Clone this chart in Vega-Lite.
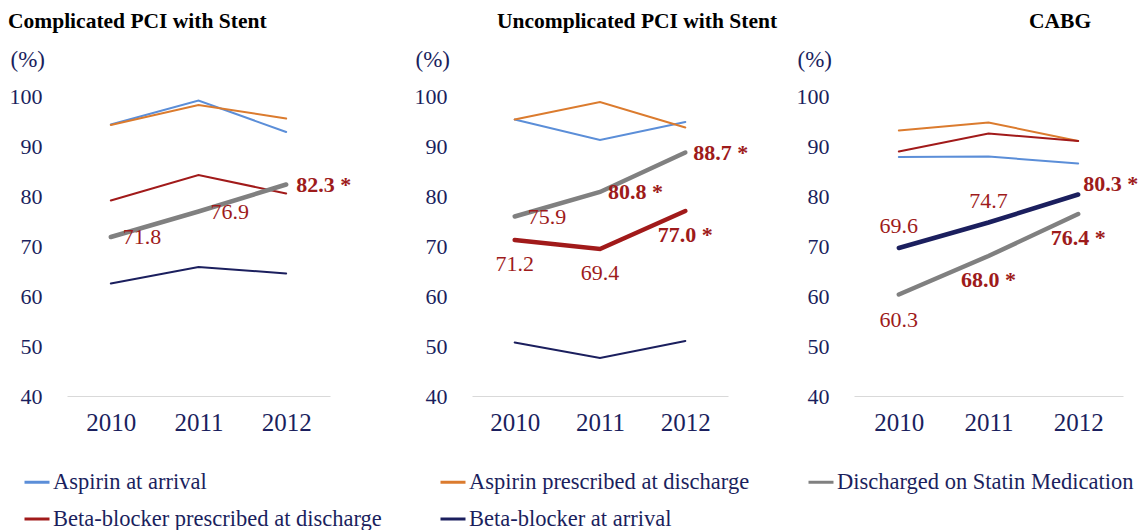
{
  "$schema": "https://vega.github.io/schema/vega-lite/v6.json",
  "padding": {"left": 8, "top": 10, "right": 5, "bottom": 5},
  "background": "white",
  "data": {"values": [
    {"panel": "Complicated PCI with Stent", "measure": "Aspirin at arrival", "year": "2010", "value": 94.3, "label": null},
    {"panel": "Complicated PCI with Stent", "measure": "Aspirin at arrival", "year": "2011", "value": 99.1, "label": null},
    {"panel": "Complicated PCI with Stent", "measure": "Aspirin at arrival", "year": "2012", "value": 92.8, "label": null},
    {"panel": "Complicated PCI with Stent", "measure": "Aspirin prescribed at discharge", "year": "2010", "value": 94.2, "label": null},
    {"panel": "Complicated PCI with Stent", "measure": "Aspirin prescribed at discharge", "year": "2011", "value": 98.2, "label": null},
    {"panel": "Complicated PCI with Stent", "measure": "Aspirin prescribed at discharge", "year": "2012", "value": 95.5, "label": null},
    {"panel": "Complicated PCI with Stent", "measure": "Discharged on Statin Medication", "year": "2010", "value": 71.8, "label": "71.8"},
    {"panel": "Complicated PCI with Stent", "measure": "Discharged on Statin Medication", "year": "2011", "value": 76.9, "label": "76.9"},
    {"panel": "Complicated PCI with Stent", "measure": "Discharged on Statin Medication", "year": "2012", "value": 82.3, "label": "82.3 *"},
    {"panel": "Complicated PCI with Stent", "measure": "Beta-blocker prescribed at discharge", "year": "2010", "value": 79.1, "label": null},
    {"panel": "Complicated PCI with Stent", "measure": "Beta-blocker prescribed at discharge", "year": "2011", "value": 84.2, "label": null},
    {"panel": "Complicated PCI with Stent", "measure": "Beta-blocker prescribed at discharge", "year": "2012", "value": 80.5, "label": null},
    {"panel": "Complicated PCI with Stent", "measure": "Beta-blocker at arrival", "year": "2010", "value": 62.5, "label": null},
    {"panel": "Complicated PCI with Stent", "measure": "Beta-blocker at arrival", "year": "2011", "value": 65.8, "label": null},
    {"panel": "Complicated PCI with Stent", "measure": "Beta-blocker at arrival", "year": "2012", "value": 64.5, "label": null},

    {"panel": "Uncomplicated PCI with Stent", "measure": "Aspirin at arrival", "year": "2010", "value": 95.3, "label": null},
    {"panel": "Uncomplicated PCI with Stent", "measure": "Aspirin at arrival", "year": "2011", "value": 91.2, "label": null},
    {"panel": "Uncomplicated PCI with Stent", "measure": "Aspirin at arrival", "year": "2012", "value": 94.8, "label": null},
    {"panel": "Uncomplicated PCI with Stent", "measure": "Aspirin prescribed at discharge", "year": "2010", "value": 95.3, "label": null},
    {"panel": "Uncomplicated PCI with Stent", "measure": "Aspirin prescribed at discharge", "year": "2011", "value": 98.8, "label": null},
    {"panel": "Uncomplicated PCI with Stent", "measure": "Aspirin prescribed at discharge", "year": "2012", "value": 93.7, "label": null},
    {"panel": "Uncomplicated PCI with Stent", "measure": "Discharged on Statin Medication", "year": "2010", "value": 75.9, "label": "75.9"},
    {"panel": "Uncomplicated PCI with Stent", "measure": "Discharged on Statin Medication", "year": "2011", "value": 80.8, "label": "80.8 *"},
    {"panel": "Uncomplicated PCI with Stent", "measure": "Discharged on Statin Medication", "year": "2012", "value": 88.7, "label": "88.7 *"},
    {"panel": "Uncomplicated PCI with Stent", "measure": "Beta-blocker prescribed at discharge", "year": "2010", "value": 71.2, "label": "71.2"},
    {"panel": "Uncomplicated PCI with Stent", "measure": "Beta-blocker prescribed at discharge", "year": "2011", "value": 69.4, "label": "69.4"},
    {"panel": "Uncomplicated PCI with Stent", "measure": "Beta-blocker prescribed at discharge", "year": "2012", "value": 77.0, "label": "77.0 *"},
    {"panel": "Uncomplicated PCI with Stent", "measure": "Beta-blocker at arrival", "year": "2010", "value": 50.7, "label": null},
    {"panel": "Uncomplicated PCI with Stent", "measure": "Beta-blocker at arrival", "year": "2011", "value": 47.6, "label": null},
    {"panel": "Uncomplicated PCI with Stent", "measure": "Beta-blocker at arrival", "year": "2012", "value": 51.0, "label": null},

    {"panel": "CABG", "measure": "Aspirin at arrival", "year": "2010", "value": 87.8, "label": null},
    {"panel": "CABG", "measure": "Aspirin at arrival", "year": "2011", "value": 87.9, "label": null},
    {"panel": "CABG", "measure": "Aspirin at arrival", "year": "2012", "value": 86.5, "label": null},
    {"panel": "CABG", "measure": "Aspirin prescribed at discharge", "year": "2010", "value": 93.1, "label": null},
    {"panel": "CABG", "measure": "Aspirin prescribed at discharge", "year": "2011", "value": 94.7, "label": null},
    {"panel": "CABG", "measure": "Aspirin prescribed at discharge", "year": "2012", "value": 91.0, "label": null},
    {"panel": "CABG", "measure": "Discharged on Statin Medication", "year": "2010", "value": 60.3, "label": "60.3"},
    {"panel": "CABG", "measure": "Discharged on Statin Medication", "year": "2011", "value": 68.0, "label": "68.0 *"},
    {"panel": "CABG", "measure": "Discharged on Statin Medication", "year": "2012", "value": 76.4, "label": "76.4 *"},
    {"panel": "CABG", "measure": "Beta-blocker prescribed at discharge", "year": "2010", "value": 88.9, "label": null},
    {"panel": "CABG", "measure": "Beta-blocker prescribed at discharge", "year": "2011", "value": 92.5, "label": null},
    {"panel": "CABG", "measure": "Beta-blocker prescribed at discharge", "year": "2012", "value": 91.0, "label": null},
    {"panel": "CABG", "measure": "Beta-blocker at arrival", "year": "2010", "value": 69.6, "label": "69.6"},
    {"panel": "CABG", "measure": "Beta-blocker at arrival", "year": "2011", "value": 74.7, "label": "74.7"},
    {"panel": "CABG", "measure": "Beta-blocker at arrival", "year": "2012", "value": 80.3, "label": "80.3 *"}
  ]},
  "bounds": "flush",
  "spacing": 142,
  "hconcat": [
    {
      "width": 263, "height": 300,
      "title": {"text": "Complicated PCI with Stent", "anchor": "start", "frame": "group", "dx": -59},
      "transform": [{"filter": "datum.panel == 'Complicated PCI with Stent'"}],
      "encoding": {
        "x": {"field": "year", "type": "ordinal", "scale": {"type": "point", "padding": 0.5}},
        "y": {"field": "value", "type": "quantitative", "scale": {"domain": [40, 100], "nice": false, "zero": false}, "axis": {"title": "(%)"}}
      },
      "layer": [
        {"transform": [{"filter": "datum.measure != 'Discharged on Statin Medication'"}],
         "mark": {"type": "line", "strokeWidth": 2},
         "encoding": {"color": {"field": "measure", "type": "nominal", "scale": {"domain": ["Aspirin at arrival", "Aspirin prescribed at discharge", "Discharged on Statin Medication", "Beta-blocker prescribed at discharge", "Beta-blocker at arrival"], "range": ["#5B8ED8", "#DB7B2E", "#808080", "#A11A1A", "#1B1F5E"]}}}},
        {"transform": [{"filter": "datum.measure == 'Discharged on Statin Medication'"}],
         "mark": {"type": "line", "strokeWidth": 4.5},
         "encoding": {"color": {"field": "measure", "type": "nominal"}}},
        {"transform": [{"filter": "datum.label != null && indexof(datum.label, '*') < 0"}],
         "mark": {"type": "text", "align": "left", "baseline": "middle", "dx": 12},
         "encoding": {"text": {"field": "label"}}},
        {"transform": [{"filter": "datum.label != null && indexof(datum.label, '*') >= 0"}],
         "mark": {"type": "text", "align": "left", "baseline": "middle", "dx": 10, "fontWeight": "bold"},
         "encoding": {"text": {"field": "label"}}}
      ]
    },
    {
      "bounds": "flush",
      "spacing": 126,
      "hconcat": [
        {
          "width": 256, "height": 300,
          "title": {"text": "Uncomplicated PCI with Stent", "anchor": "start", "frame": "group", "dx": 25},
          "transform": [{"filter": "datum.panel == 'Uncomplicated PCI with Stent'"}],
          "encoding": {
            "x": {"field": "year", "type": "ordinal", "scale": {"type": "point", "padding": 0.5}},
            "y": {"field": "value", "type": "quantitative", "scale": {"domain": [40, 100], "nice": false, "zero": false}, "axis": {"title": "(%)"}}
          },
          "layer": [
            {"transform": [{"filter": "datum.measure != 'Discharged on Statin Medication' && datum.measure != 'Beta-blocker prescribed at discharge'"}],
             "mark": {"type": "line", "strokeWidth": 2},
             "encoding": {"color": {"field": "measure", "type": "nominal"}}},
            {"transform": [{"filter": "datum.measure == 'Discharged on Statin Medication' || datum.measure == 'Beta-blocker prescribed at discharge'"}],
             "mark": {"type": "line", "strokeWidth": 4.5},
             "encoding": {"color": {"field": "measure", "type": "nominal"}}},
            {"transform": [{"filter": "datum.measure == 'Discharged on Statin Medication' && indexof(datum.label, '*') < 0"}],
             "mark": {"type": "text", "align": "left", "baseline": "middle", "dx": 13},
             "encoding": {"text": {"field": "label"}}},
            {"transform": [{"filter": "datum.measure == 'Discharged on Statin Medication' && indexof(datum.label, '*') >= 0"}],
             "mark": {"type": "text", "align": "left", "baseline": "middle", "dx": 8, "fontWeight": "bold"},
             "encoding": {"text": {"field": "label"}}},
            {"transform": [{"filter": "datum.measure == 'Beta-blocker prescribed at discharge' && indexof(datum.label, '*') < 0"}],
             "mark": {"type": "text", "align": "center", "baseline": "middle", "dy": 24},
             "encoding": {"text": {"field": "label"}}},
            {"transform": [{"filter": "datum.measure == 'Beta-blocker prescribed at discharge' && indexof(datum.label, '*') >= 0"}],
             "mark": {"type": "text", "align": "center", "baseline": "middle", "dy": 24, "fontWeight": "bold"},
             "encoding": {"text": {"field": "label"}}}
          ]
        },
        {
          "width": 269, "height": 300,
          "title": {"text": "CABG", "anchor": "start", "frame": "group", "dx": 175},
          "transform": [{"filter": "datum.panel == 'CABG'"}],
          "encoding": {
            "x": {"field": "year", "type": "ordinal", "scale": {"type": "point", "padding": 0.5}},
            "y": {"field": "value", "type": "quantitative", "scale": {"domain": [40, 100], "nice": false, "zero": false}, "axis": {"title": "(%)"}}
          },
          "layer": [
            {"transform": [{"filter": "datum.measure != 'Discharged on Statin Medication' && datum.measure != 'Beta-blocker at arrival'"}],
             "mark": {"type": "line", "strokeWidth": 2},
             "encoding": {"color": {"field": "measure", "type": "nominal"}}},
            {"transform": [{"filter": "datum.measure == 'Discharged on Statin Medication' || datum.measure == 'Beta-blocker at arrival'"}],
             "mark": {"type": "line", "strokeWidth": 4.5},
             "encoding": {"color": {"field": "measure", "type": "nominal"}}},
            {"transform": [{"filter": "datum.measure == 'Beta-blocker at arrival' && indexof(datum.label, '*') < 0"}],
             "mark": {"type": "text", "align": "center", "baseline": "middle", "dy": -22},
             "encoding": {"text": {"field": "label"}}},
            {"transform": [{"filter": "datum.measure == 'Beta-blocker at arrival' && indexof(datum.label, '*') >= 0"}],
             "mark": {"type": "text", "align": "left", "baseline": "middle", "dx": 5, "dy": -11, "fontWeight": "bold"},
             "encoding": {"text": {"field": "label"}}},
            {"transform": [{"filter": "datum.measure == 'Discharged on Statin Medication' && indexof(datum.label, '*') < 0"}],
             "mark": {"type": "text", "align": "center", "baseline": "middle", "dy": 25},
             "encoding": {"text": {"field": "label"}}},
            {"transform": [{"filter": "datum.measure == 'Discharged on Statin Medication' && indexof(datum.label, '*') >= 0"}],
             "mark": {"type": "text", "align": "center", "baseline": "middle", "dy": 24, "fontWeight": "bold"},
             "encoding": {"text": {"field": "label"}}}
          ]
        }
      ]
    }
  ],
  "config": {
    "font": "Liberation Serif",
    "view": {"stroke": null},
    "title": {"fontSize": 21.5, "fontWeight": "bold", "color": "#000000", "font": "Liberation Serif", "offset": 16},
    "text": {"fontSize": 22, "color": "#9E1B1B", "font": "Liberation Serif"},
    "line": {"strokeCap": "round", "strokeJoin": "miter"},
    "axisX": {"title": null, "labelAngle": 0, "labelFontSize": 25, "labelColor": "#1B1F5E", "labelPadding": 14, "ticks": false, "domain": true, "domainColor": "#D9D9D9", "domainWidth": 1, "grid": false, "labelFont": "Liberation Serif"},
    "axisY": {"titleAngle": 0, "titleAlign": "left", "titleBaseline": "alphabetic", "titleX": -57, "titleY": -30, "titleFontSize": 23, "titleColor": "#1B1F5E", "titleFontWeight": "normal", "titleFont": "Liberation Serif", "labelFontSize": 22, "labelColor": "#1B1F5E", "labelPadding": 25, "ticks": false, "domain": false, "grid": false, "values": [40, 50, 60, 70, 80, 90, 100], "labelFont": "Liberation Serif"},
    "legend": {"orient": "none", "legendX": -44, "legendY": 372, "title": null, "columns": 3, "direction": "horizontal", "symbolType": "stroke", "symbolStrokeWidth": 3, "symbolSize": 625, "labelFontSize": 22.5, "labelFont": "Liberation Serif", "labelColor": "#1B1F5E", "labelLimit": 0, "columnPadding": 52, "rowPadding": 11, "labelOffset": 2}
  },
  "resolve": {"scale": {"color": "shared"}}
}
